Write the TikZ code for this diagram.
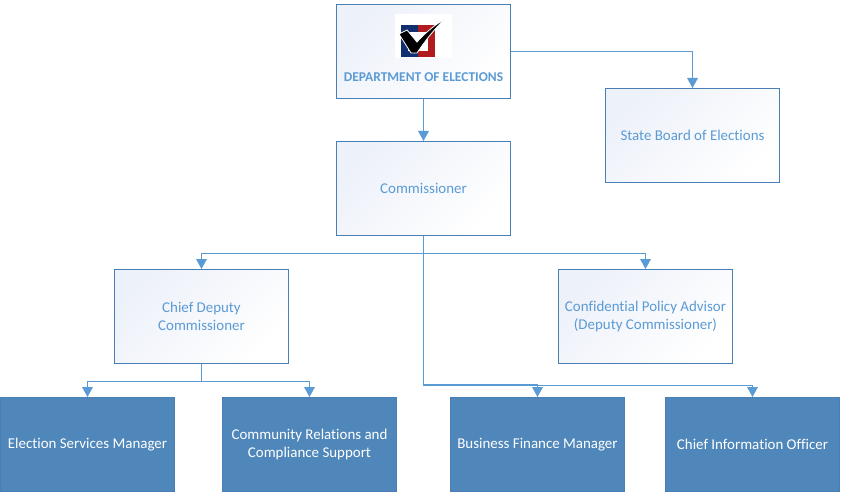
\documentclass[tikz,border=0pt]{standalone}
\usepackage{fontspec}
\setmainfont[Ligatures=NoCommon]{Carlito}
\usetikzlibrary{arrows.meta,positioning}
\definecolor{brand}{HTML}{5B9BD5}
\definecolor{boxline}{HTML}{4A7FB5}
\definecolor{boxfill}{HTML}{4F87BA}
\definecolor{paleblue}{HTML}{EDF1F9}
\definecolor{logoblue}{HTML}{12306F}
\definecolor{logored}{HTML}{B01C20}
\tikzset{
link/.style={-{Triangle[length=7.5pt,width=8pt]}, line width=.75pt, color=brand},
plainbox/.style={draw=boxline, line width=.75pt, minimum width=130.5pt, minimum height=70.5pt, align=center, font=\fontsize{11.2pt}{13.5pt}\selectfont, text=brand, inner sep=0pt, top color=paleblue, middle color=white, bottom color=white, shading angle=45},
darkbox/.style={draw=boxline, line width=.75pt, fill=boxfill, minimum width=130.5pt, minimum height=70.5pt, align=center, font=\fontsize{11.2pt}{13.5pt}\selectfont, text=white, inner sep=0pt}}
\begin{document}
\begin{tikzpicture}[x=.75pt,y=-.75pt]
\useasboundingbox (0,0) rectangle (843,492);
\node[plainbox] (dept) at (423.5,51.5) {};
\node[plainbox] (board) at (692.5,135.5) {State Board of Elections};
\node[plainbox] (comm) at (423.5,188.5) {Commissioner};
\node[plainbox] (chief) at (201.5,316.5) {Chief Deputy\\Commissioner};
\node[plainbox] (conf) at (645.5,316.5) {Confidential Policy Advisor\\(Deputy Commissioner)};
\node[darkbox] (elec) at (87.5,444.5) {Election Services Manager};
\node[darkbox] (rel) at (309.5,444.5) {Community Relations and\\Compliance Support};
\node[darkbox] (fin) at (537.5,444.5) {Business Finance Manager};
\node[darkbox] (info) at (752.5,444.5) {Chief Information Officer};
% logo
\fill[white] (395,14) rectangle (452,58);
\fill[logoblue] (401,25.5) rectangle (418,57.5);
\fill[logored] (418,25.5) rectangle (435,57.5);
\fill[white] (408,32) rectangle (428,51);
\filldraw[fill=black, draw=white, line width=.6pt] (399,34) -- (407,30) -- (417,42) .. controls (426,32) and (436,24) .. (445,19) .. controls (435,28) and (425,41) .. (417,53) -- (411,53) -- cycle;
\node[font=\fontsize{10.1pt}{12pt}\selectfont\bfseries, text=brand, inner sep=0pt] (depttext) at (423.5,77.5) {DEPARTMENT OF ELECTIONS};
% connectors
\draw[link] (dept.south) -- (comm.north);
\draw[link] (dept.east) -| (board.north);
\draw[link] (comm.south) -- ++(0,17) -| (chief.north);
\draw[link] (comm.south) -- ++(0,17) -| (conf.north);
\draw[link] (chief.south) -- ++(0,17) -| (elec.north);
\draw[link] (chief.south) -- ++(0,17) -| (rel.north);
\draw[link] (comm.south) -- ++(0,148) -| (fin.north);
\draw[link] (comm.south) -- ++(0,149) -| (info.north);
\end{tikzpicture}
\end{document}
